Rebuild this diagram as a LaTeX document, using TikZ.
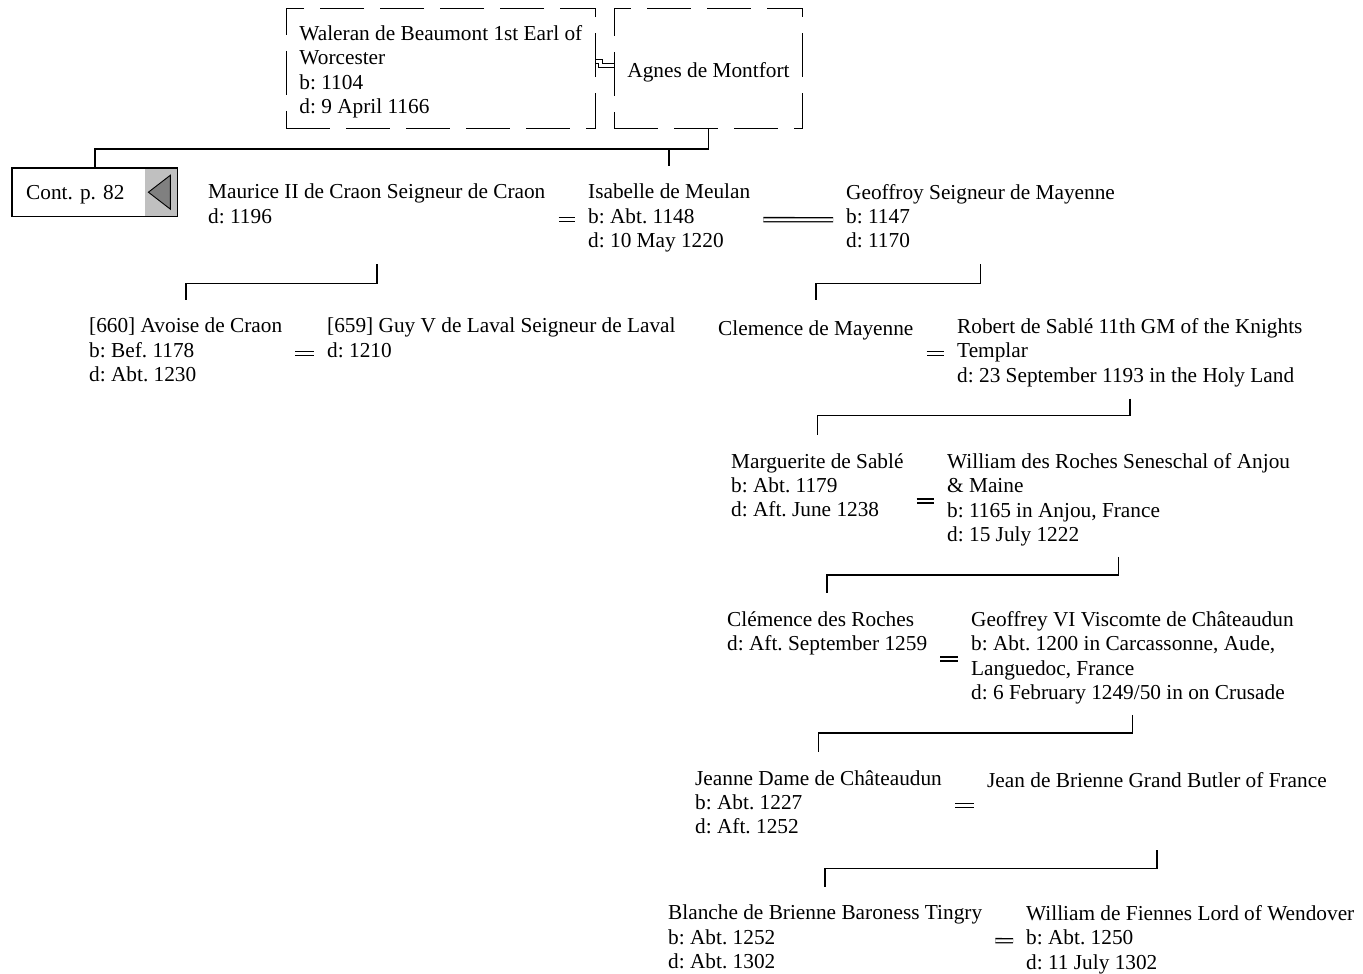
\documentclass[tikz,border=0pt]{standalone}
\usepackage{fontspec}
\setmainfont{Liberation Serif}
\definecolor{btngray}{RGB}{192,192,192}
\definecolor{trigray}{RGB}{128,128,128}

\begin{document}
\frenchspacing
\begin{tikzpicture}[x=1pt,y=-1pt,font=\fontsize{21.3}{24.4}\selectfont,
  person/.style={anchor=north west,inner sep=0pt,align=left,
    execute at begin node=\strut,execute at end node=\strut},
  dashbox/.style={draw,dash pattern=on 44pt off 16pt,line width=.9pt,anchor=north west,
    inner xsep=13pt,inner ysep=0pt,minimum height=120pt,align=left},
  link/.style={line width=1.6pt},
  marr/.style={double,double distance=2.8pt,line width=1.3pt}]
\useasboundingbox (0,0) rectangle (1363,974);
\node[dashbox] (waleran) at (286,8) {\rule{0pt}{22pt}Waleran de Beaumont 1st Earl of\\Worcester\\b: 1104\\d: 9 April 1166};
\node[dashbox,minimum width=188pt] (agnes) at (614,8) {\rule{0pt}{22pt}Agnes de Montfort};
\node[anchor=north west,inner xsep=14pt,inner ysep=0pt,text width=137pt,minimum height=48pt,
  execute at begin node={\rule{0pt}{20pt}}] (cont) at (12,168) {Cont. p. 82};
\fill[btngray] ([xshift=-32pt]cont.north east) rectangle (cont.south east);
\filldraw[fill=trigray,line width=.9pt] ([xshift=-29pt]cont.east) -- ([xshift=-7pt,yshift=17pt]cont.east)
  -- ([xshift=-7pt,yshift=-17pt]cont.east) -- cycle;
\draw[line width=1.6pt] (cont.north west) rectangle (cont.south east);
\node[person] (maurice) at (208,184) {Maurice II de Craon Seigneur de Craon\\d: 1196};
\node[person] (isabelle) at (588,184) {Isabelle de Meulan\\b: Abt. 1148\\d: 10 May 1220};
\node[person] (geoffroy) at (846,184) {Geoffroy Seigneur de Mayenne\\b: 1147\\d: 1170};
\node[person] (avoise) at (89,318) {[660] Avoise de Craon\\b: Bef. 1178\\d: Abt. 1230};
\node[person] (guy) at (327,318) {[659] Guy V de Laval Seigneur de Laval\\d: 1210};
\node[person] (clemence) at (718,318) {Clemence de Mayenne};
\node[person] (robert) at (957,318) {Robert de Sablé 11th GM of the Knights\\Templar\\d: 23 September 1193 in the Holy Land};
\node[person] (marguerite) at (731,453) {Marguerite de Sablé\\b: Abt. 1179\\d: Aft. June 1238};
\node[person] (william) at (947,453) {William des Roches Seneschal of Anjou\\\& Maine\\b: 1165 in Anjou, France\\d: 15 July 1222};
\node[person] (clemroches) at (727,611) {Clémence des Roches\\d: Aft. September 1259};
\node[person] (geoffrey) at (971,611) {Geoffrey VI Viscomte de Châteaudun\\b: Abt. 1200 in Carcassonne, Aude,\\Languedoc, France\\d: 6 February 1249/50 in on Crusade};
\node[person] (jeanne) at (695,770) {Jeanne Dame de Châteaudun\\b: Abt. 1227\\d: Aft. 1252};
\node[person] (jean) at (987,770) {Jean de Brienne Grand Butler of France};
\node[person] (blanche) at (668,905) {Blanche de Brienne Baroness Tingry\\b: Abt. 1252\\d: Abt. 1302};
\node[person] (fiennes) at (1026,905) {William de Fiennes Lord of Wendover\\b: Abt. 1250\\d: 11 July 1302};
\draw[marr] ([yshift=7pt]waleran.east) -- ++(5,0) |- ([yshift=3pt]agnes.west);
\coordinate (top) at ([yshift=-20pt]agnes.south);
\draw[link] (agnes.south) -- (top) -| (cont.north);
\draw[link] (top) -| ([yshift=18pt]isabelle.north);
\draw[marr] ([xshift=13pt]maurice.east |- isabelle.west) -- ([xshift=-13pt]isabelle.west);
\draw[marr] ([xshift=13pt]isabelle.east) -- ([xshift=-13pt]geoffroy.west);
\draw[marr] ([xshift=13pt]avoise.east) -- ([xshift=-13pt]guy.west |- avoise.east);
\draw[marr] ([xshift=13pt]clemence.east |- robert.west) -- ([xshift=-13pt]robert.west);
\draw[marr] ([xshift=13pt]marguerite.east |- william.west) -- ([xshift=-13pt]william.west);
\draw[marr] ([xshift=13pt]clemroches.east |- geoffrey.west) -- ([xshift=-13pt]geoffrey.west);
\draw[marr] ([xshift=13pt]jeanne.east) -- ([xshift=-13pt]jean.west |- jeanne.east);
\draw[marr] ([xshift=13pt]blanche.east) -- ([xshift=-13pt]fiennes.west);
\draw[link] ([yshift=-9pt]isabelle.south -| maurice.south) -- ++(0,19) -| ([yshift=18pt]avoise.north);
\draw[link] ([yshift=-9pt]isabelle.south -| geoffroy.south) -- ++(0,19) -| ([yshift=18pt]clemence.north);
\draw[link] ([yshift=-9pt]robert.south) -- ++(0,17) -| ([yshift=18pt]marguerite.north);
\draw[link] ([yshift=-8pt]william.south) -- ++(0,18) -| ([yshift=18pt]clemroches.north);
\draw[link] ([yshift=-8pt]geoffrey.south) -- ++(0,18) -| ([yshift=18pt]jeanne.north);
\draw[link] ([yshift=-9pt]jeanne.south -| jean.south) -- ++(0,18) -| ([yshift=18pt]blanche.north);
\end{tikzpicture}
\end{document}
